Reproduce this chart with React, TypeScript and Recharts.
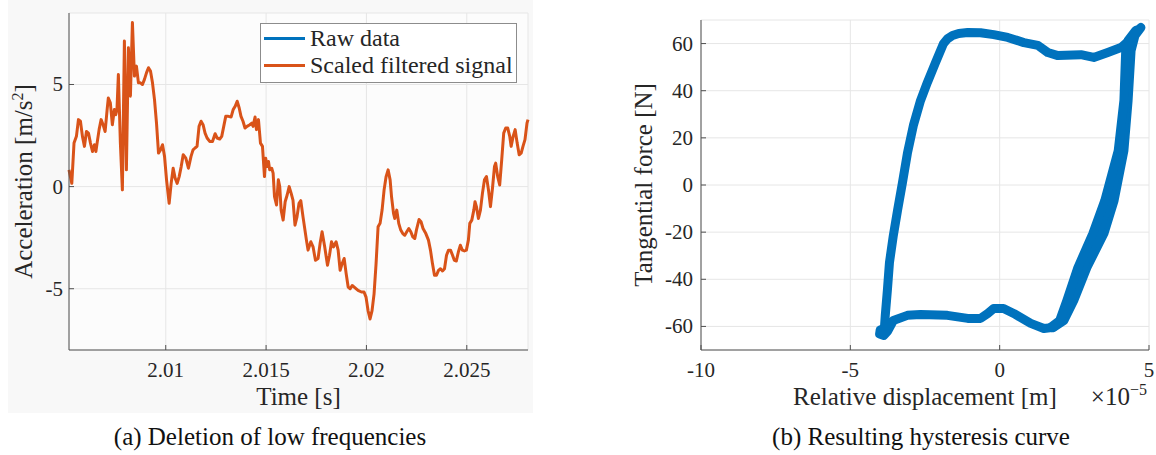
import { LineChart, Line, XAxis, YAxis, CartesianGrid, Legend, Label } from 'recharts';

// Scaled, high-pass filtered acceleration: time [s] and value [m/s^2]
const timeS = [
  2.00518, 2.00532, 2.00543, 2.00555, 2.00565, 2.00575, 2.00585, 2.00595, 2.00605, 2.00615,
  2.00625, 2.00635, 2.00645, 2.00652, 2.00658, 2.00668, 2.00678, 2.00688, 2.00698, 2.00708,
  2.00714, 2.00724, 2.00734, 2.00744, 2.00751, 2.00757, 2.00764, 2.00774, 2.00784, 2.00794,
  2.00804, 2.00814, 2.00824, 2.00834, 2.00844, 2.00854, 2.00864, 2.00874, 2.00884, 2.00894,
  2.00904, 2.00914, 2.00924, 2.00934, 2.00944, 2.00954, 2.00964, 2.00974, 2.00984, 2.00994,
  2.01004, 2.01017, 2.01027, 2.01037, 2.01047, 2.01057, 2.01067, 2.01077, 2.01087,
  2.011, 2.01113, 2.01126, 2.01136, 2.01146, 2.01156, 2.01166, 2.01176, 2.01186, 2.01196,
  2.01206, 2.01219, 2.01233, 2.01246, 2.01256, 2.01269, 2.01279, 2.01289, 2.01299, 2.01312,
  2.01326, 2.01336, 2.01346, 2.01356, 2.01366, 2.01375, 2.01385, 2.01395, 2.01405, 2.01419,
  2.01429, 2.01435, 2.01445, 2.01452, 2.01462, 2.01472, 2.01482, 2.01492, 2.01498, 2.01505,
  2.01512, 2.01518, 2.01528, 2.01535, 2.01542, 2.01552, 2.01561, 2.01568, 2.01575, 2.01585,
  2.01595, 2.01605, 2.01615, 2.01625, 2.01634, 2.01644, 2.01654, 2.01664,
  2.01673, 2.01684, 2.01701, 2.01709, 2.01723, 2.01734, 2.01746, 2.01759, 2.01769, 2.01779,
  2.01792, 2.01806, 2.01816, 2.01826, 2.01836, 2.01849, 2.01859, 2.01869, 2.01879, 2.01889,
  2.01899, 2.01909, 2.01919, 2.01929, 2.01942, 2.01958, 2.01975, 2.01988, 2.01998, 2.02008,
  2.02018, 2.02028, 2.02038, 2.02048, 2.02058, 2.02068, 2.02078, 2.02088, 2.02098, 2.02108,
  2.02118, 2.02125, 2.02135, 2.02141, 2.02151, 2.02161, 2.02171, 2.02181, 2.02191, 2.02201,
  2.02211, 2.02221, 2.02231, 2.02241,
  2.02249, 2.02262, 2.02272, 2.02282, 2.02296, 2.02309, 2.02319, 2.02329, 2.02339, 2.02349,
  2.02359, 2.02369, 2.02379, 2.02389, 2.02399, 2.02409, 2.02419, 2.02429, 2.02438, 2.02448,
  2.02458, 2.02468, 2.02478, 2.02488, 2.02498, 2.02508, 2.02515, 2.02525, 2.02535, 2.02541,
  2.02548, 2.02558, 2.02568, 2.02578, 2.02588, 2.02598, 2.02608, 2.02618, 2.02628, 2.02638,
  2.02644, 2.02654, 2.02664, 2.02674, 2.02684, 2.02694, 2.02704, 2.02714, 2.02721, 2.02731,
  2.02741, 2.02751, 2.02761, 2.02771, 2.0278, 2.0279, 2.028, 2.02805,
];
const accel = [
  0.82, 0.16, 2.13, 2.46, 3.28, 3.2, 2.46, 1.97, 2.7, 2.62,
  2.13, 1.72, 2.05, 1.72, 2.13, 2.79, 3.28, 3.03, 2.7, 3.77,
  4.34, 4.1, 3.03, 3.77, 3.52, 3.77, 5.49, 2.13, -0.16, 7.13,
  0.82, 6.8, 4.43, 8.03, 5.41, 5.9, 5.08, 5.08, 5.0, 5.25,
  5.57, 5.82, 5.66, 5.08, 4.26, 3.11, 1.64, 1.8, 2.05, 1.48,
  0.33, -0.82, 0.16, 0.9, 0.41, 0.16, 0.49, 0.98, 1.56,
  1.39, 0.9, 1.48, 1.8, 1.89, 1.97, 2.95, 3.2, 3.03, 2.62,
  2.38, 2.21, 2.21, 2.59, 2.38, 2.33, 2.46, 2.95, 3.44, 3.44,
  3.41, 3.77, 3.93, 4.18, 3.85, 3.44, 3.2, 2.87, 2.95, 3.03,
  3.11, 2.95, 3.41, 2.79, 3.28, 2.13, 1.97, 0.49, 1.39, 0.98,
  1.23, 0.82, 0.9, 0.66, -0.49, -0.9, 0.33, 0.0, -1.15, -1.64,
  -0.74, -0.41, 0.0, -0.33, -0.66, -1.89, -1.48, -0.82,
  -0.69, -1.48, -2.62, -3.11, -2.7, -2.95, -3.61, -3.52, -2.79, -2.21,
  -2.95, -3.85, -3.36, -2.7, -2.95, -2.7, -3.11, -4.1, -3.77, -3.52,
  -4.26, -4.92, -5.0, -4.84, -4.95, -5.08, -5.16, -5.16, -5.41, -6.07,
  -6.48, -6.07, -5.25, -3.77, -1.97, -1.8, -1.15, -0.16, 0.49, 0.82,
  0.33, -0.49, -1.31, -1.56, -1.15, -1.8, -2.13, -2.3, -2.38, -2.21,
  -2.05, -2.21, -2.46, -2.54,
  -2.13, -1.61, -1.72, -2.05, -2.3, -2.62, -3.11, -3.77, -4.34, -4.34,
  -4.1, -4.02, -4.13, -4.02, -3.36, -3.11, -3.11, -3.36, -3.61, -3.64,
  -3.2, -2.87, -3.11, -3.15, -3.11, -2.62, -1.8, -1.64, -1.15, -0.74,
  -0.98, -1.56, -1.15, -0.33, 0.33, 0.49, -0.16, -0.98, -0.08, 0.98,
  1.15, 0.49, 0.08, 1.31, 2.62, 2.87, 2.87, 2.46, 1.97, 2.46,
  2.79, 2.13, 1.56, 1.64, 1.97, 2.3, 3.11, 3.28,
];

const timeTicks = [2.01, 2.015, 2.02, 2.025];
const accelTicks = [-5, 0, 5];

// Force-displacement loop: displacement in 1e-5 m, force in N
const loopDisp = [
  -3.86, -4.0, -4.02, -3.88, -3.75, -3.56, -3.09, -2.65, -1.75, -1.07,
  -0.64, -0.4, -0.2, 0.13, 0.47, 1.04, 1.48, 1.81,
  2.15, 2.48, 2.92, 3.49, 3.83, 4.16, 4.3, 4.4, 4.53, 4.73,
  4.4, 4.06, 3.62, 3.15, 2.72, 1.95, 1.61, 1.28, 0.81, 0.27,
  -0.2, -0.64, -1.07, -1.37, -1.58, -1.75, -1.88,
  -2.15, -2.42, -2.65, -2.89, -3.09, -3.26, -3.42, -3.56, -3.69, -3.76,
  -3.83, -3.86,
];
const loopForce = [
  -60.8, -61.5, -63.2, -63.8, -62.0, -57.5, -55.3, -54.9, -55.3, -56.6,
  -56.6, -54.5, -52.4, -52.4, -54.5, -58.7, -60.9, -60.4,
  -57.5, -49.0, -35.0, -20.6, -6.6, 14.6, 35.8, 57.0, 63.4, 66.8,
  62.0, 58.3, 56.2, 54.1, 55.3, 54.9, 56.2, 59.2, 60.4, 62.6,
  63.8, 64.6, 64.7, 64.3, 63.4, 62.0, 60.0,
  51.9, 43.5, 35.8, 25.2, 13.4, 0.6, -10.8, -21.4, -32.9, -44.7,
  -55.3, -60.8,
];
// Later cycles load along slightly softer rising branches
const riseMidDisp = [1.76, 2.08, 2.37, 2.77, 3.3, 3.68, 4.07, 4.24, 4.31, 4.41, 4.6];
const riseMidForce = [-60.6, -57.5, -49.0, -35.0, -20.6, -6.6, 14.6, 35.8, 57.0, 62.0, 65.8];
const riseInDisp = [1.71, 2.01, 2.25, 2.62, 3.12, 3.52, 3.97, 4.16, 4.22, 4.3, 4.55];
const riseInForce = [-60.4, -57.5, -49.0, -35.0, -20.6, -6.6, 14.6, 35.8, 57.0, 61.3, 65.5];

const dispTicks = [-10, -5, 0, 5];
const forceTicks = [-60, -40, -20, 0, 20, 40, 60];

const BLUE = '#0072BD';
const ORANGE = '#D95319';
const AXIS = '#505050';
const GRID = '#e6e6e6';
const TEXT = '#262626';
const SERIF = '"Liberation Serif", "DejaVu Serif", serif';

const accelRows = timeS.map((t, i) => ({ t, a: accel[i] }));
const loopRows = loopDisp.map((d, i) => ({ d, f: loopForce[i] }));
const riseMidRows = riseMidDisp.map((d, i) => ({ d, f: riseMidForce[i] }));
const riseInRows = riseInDisp.map((d, i) => ({ d, f: riseInForce[i] }));

const tickFont = { fontSize: 21, fontFamily: SERIF, fill: TEXT };
const titleStyle = { fontSize: 25, fontFamily: SERIF, fill: TEXT };

// tick labels drawn by hand so the serif face and size stick
const BottomTick = ({ x, y, payload }: any) => (
  <text x={x} y={y} dy={15} textAnchor="middle" style={tickFont}>
    {String(payload.value)}
  </text>
);

const LeftTick = ({ x, y, payload }: any) => (
  <text x={x} y={y} dy={7} textAnchor="end" style={tickFont}>
    {String(payload.value)}
  </text>
);

const TimeTitle = ({ viewBox }: any) => (
  <text x={viewBox.x + viewBox.width / 2} y={viewBox.y + 55} textAnchor="middle" style={titleStyle}>
    Time [s]
  </text>
);

const AccelTitle = ({ viewBox }: any) => {
  const x = viewBox.x + 32;
  const y = viewBox.y + viewBox.height / 2;
  return (
    <text x={x} y={y} transform={`rotate(-90 ${x} ${y})`} textAnchor="middle" style={titleStyle}>
      Acceleration [m/s<tspan dy={-9} fontSize={16}>2</tspan>
      <tspan dy={9}>]</tspan>
    </text>
  );
};

const DispTitle = ({ viewBox }: any) => {
  const y = viewBox.y + 55;
  return (
    <g>
      <text x={viewBox.x + viewBox.width / 2} y={y} textAnchor="middle" style={titleStyle}>
        Relative displacement [m]
      </text>
      <text x={viewBox.x + viewBox.width - 2} y={y} textAnchor="end" style={titleStyle}>
        ×10<tspan dy={-10} fontSize={16}>−5</tspan>
      </text>
    </g>
  );
};

const ForceTitle = ({ viewBox }: any) => {
  const x = viewBox.x + 52;
  const y = viewBox.y + viewBox.height / 2;
  return (
    <text x={x} y={y} transform={`rotate(-90 ${x} ${y})`} textAnchor="middle" style={titleStyle}>
      Tangential force [N]
    </text>
  );
};

const legendItems = [
  { name: 'Raw data', color: BLUE },
  { name: 'Scaled filtered signal', color: ORANGE },
];

const SignalLegend = () => (
  <div
    style={{
      width: 257,
      height: 60,
      boxSizing: 'border-box',
      border: '1px solid #8c8c8c',
      background: '#fff',
      padding: '1px 4px 0 3px',
      fontFamily: SERIF,
      fontSize: 24,
      color: TEXT,
      whiteSpace: 'nowrap',
    }}
  >
    {legendItems.map((item) => (
      <div key={item.name} style={{ display: 'flex', alignItems: 'center', height: 27 }}>
        <span style={{ display: 'inline-block', flex: 'none', width: 41, height: 3, background: item.color, marginRight: 5 }} />
        <span style={{ lineHeight: '27px' }}>{item.name}</span>
      </div>
    ))}
  </div>
);

const captionStyle = {
  position: 'absolute' as const,
  top: 424,
  width: 400,
  height: 26,
  lineHeight: '26px',
  textAlign: 'center' as const,
  fontFamily: SERIF,
  fontSize: 25,
  color: '#111',
};

const loopLine = {
  stroke: BLUE,
  strokeWidth: 9,
  strokeLinejoin: 'round' as const,
  strokeLinecap: 'round' as const,
  dot: false,
  activeDot: false,
  isAnimationActive: false,
};

export default function App() {
  return (
    <div style={{ position: 'absolute', left: 0, top: 0, width: 1156, height: 455, background: '#fff', overflow: 'hidden' }}>
      <div style={{ position: 'absolute', left: 8, top: 0, width: 525, height: 413, background: '#f8f8f8' }} />

      <div style={{ position: 'absolute', left: 0, top: 0 }}>
        <LineChart width={540} height={420} data={accelRows} margin={{ top: 13, right: 12, bottom: 0, left: 0 }}>
          <CartesianGrid stroke={GRID} fill="#fcfcfc" />
          <XAxis
            type="number"
            dataKey="t"
            domain={['dataMin', 'dataMax']}
            ticks={timeTicks}
            interval={0}
            height={70}
            tickSize={-5}
            tickMargin={17}
            axisLine={{ stroke: AXIS }}
            tickLine={{ stroke: AXIS }}
            tick={BottomTick}
          >
            <Label content={TimeTitle} />
          </XAxis>
          <YAxis
            type="number"
            domain={[-8, 8.5]}
            ticks={accelTicks}
            interval={0}
            width={69}
            tickSize={-5}
            tickMargin={11}
            axisLine={{ stroke: AXIS }}
            tickLine={{ stroke: AXIS }}
            tick={LeftTick}
          >
            <Label content={AccelTitle} />
          </YAxis>
          <Legend
            layout="horizontal"
            verticalAlign="middle"
            align="center"
            content={SignalLegend}
            wrapperStyle={{ left: 260, top: 23, width: 257 }}
          />
          <Line
            dataKey="a"
            stroke={ORANGE}
            strokeWidth={3}
            strokeLinejoin="round"
            dot={false}
            activeDot={false}
            isAnimationActive={false}
          />
        </LineChart>
      </div>

      <div style={{ position: 'absolute', left: 600, top: 0 }}>
        <LineChart width={556} height={420} margin={{ top: 20, right: 7, bottom: 0, left: 0 }}>
          <CartesianGrid stroke={GRID} />
          <XAxis
            type="number"
            dataKey="d"
            domain={[-10, 5]}
            ticks={dispTicks}
            interval={0}
            height={70}
            tickSize={-5}
            tickMargin={17}
            axisLine={{ stroke: AXIS }}
            tickLine={{ stroke: AXIS }}
            tick={BottomTick}
          >
            <Label content={DispTitle} />
          </XAxis>
          <YAxis
            type="number"
            domain={[-70, 70]}
            ticks={forceTicks}
            interval={0}
            width={101}
            tickSize={-5}
            tickMargin={13}
            axisLine={{ stroke: AXIS }}
            tickLine={{ stroke: AXIS }}
            tick={LeftTick}
          >
            <Label content={ForceTitle} />
          </YAxis>
          <Line data={loopRows} dataKey="f" {...loopLine} />
          <Line data={riseMidRows} dataKey="f" {...loopLine} />
          <Line data={riseInRows} dataKey="f" {...loopLine} />
        </LineChart>
      </div>

      <div style={{ ...captionStyle, left: 70 }}>(a) Deletion of low frequencies</div>
      <div style={{ ...captionStyle, left: 721 }}>(b) Resulting hysteresis curve</div>
    </div>
  );
}
